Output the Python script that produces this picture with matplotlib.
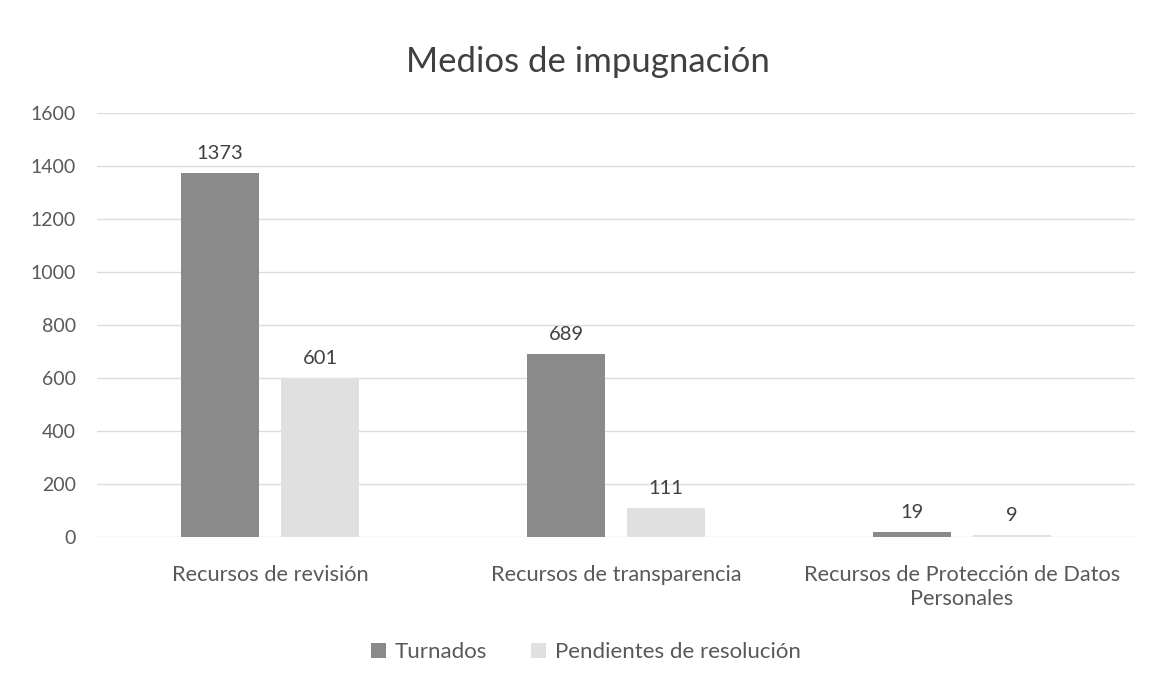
import matplotlib.pyplot as plt
import numpy as np

categorias = ["Recursos de revisión", "Recursos de transparencia",
              "Recursos de Protección de Datos\nPersonales"]
turnados = [1373, 689, 19]
pendientes = [601, 111, 9]
series = ["Turnados", "Pendientes de resolución"]

plt.rcParams['font.family'] = ['Lato', 'DejaVu Sans']
gris_texto = '#595959'

fig = plt.figure(figsize=(11.56, 6.87), dpi=100)
ax = fig.add_axes([0.0839, 0.2183, 0.8979, 0.6172])

x = np.arange(len(categorias))
w = 0.225
gap = 0.064
b1 = ax.bar(x - (w + gap) / 2, turnados, w, color='#8a8a8a', label=series[0], zorder=3)
b2 = ax.bar(x + (w + gap) / 2, pendientes, w, color='#e0e0e0', label=series[1], zorder=3)

for bars in (b1, b2):
    for b in bars:
        ax.annotate(f"{int(b.get_height())}", (b.get_x() + b.get_width() / 2, b.get_height()),
                    xytext=(0, 8), textcoords='offset points', ha='center', va='bottom',
                    fontsize=14.5, color='#404040')

ax.set_xlim(-0.5, 2.5)
ax.set_ylim(0, 1600)
ax.set_yticks(range(0, 1601, 200))
ax.yaxis.grid(True, color='#dcdcdc', linewidth=1, zorder=0)
ax.set_axisbelow(True)
for s in ax.spines.values():
    s.set_visible(False)
ax.tick_params(axis='both', length=0, colors=gris_texto)
ax.tick_params(axis='y', pad=15, labelsize=14)
ax.tick_params(axis='x', pad=20, labelsize=15.7)
ax.set_xticks(x)
ax.set_xticklabels(categorias, linespacing=1.25)

fig.text(588 / 1156, 1 - 62 / 687, "Medios de impugnación", ha='center', va='center',
         fontsize=25, color='#404040')

fig.legend(handles=[b1, b2], labels=series, loc='center', bbox_to_anchor=(586 / 1156, 1 - 652 / 687),
           ncol=2, frameon=False, fontsize=16, labelcolor=gris_texto, handlelength=0.65,
           handleheight=0.65, columnspacing=2.0, handletextpad=0.4)

fig.savefig('out.png', dpi=100, facecolor='white')
